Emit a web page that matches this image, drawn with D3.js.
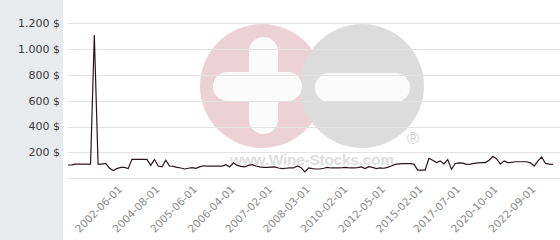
<!DOCTYPE html>
<html>
<head>
<meta charset="utf-8">
<script src="https://d3js.org/d3.v7.min.js"></script>
<style>
  body { margin: 0; background: #fff; }
  svg { display: block; font-family: "DejaVu Sans", Verdana, sans-serif; }
</style>
</head>
<body>
<div id="chart"></div>
<script>
var prices = [
  103, 104, 110, 110, 110, 110, 110, 1110, 110, 110,
  115, 80, 60, 75, 85, 85, 75, 147, 147, 147,
  147, 147, 100, 145, 95, 88, 140, 95, 92, 85,
  80, 72, 78, 82, 77, 88, 97, 95, 95, 95,
  95, 95, 105, 88, 120, 100, 92, 88, 100, 105,
  95, 88, 85, 84, 86, 88, 80, 75, 78, 80,
  80, 95, 82, 50, 80, 75, 72, 72, 78, 85,
  80, 80, 80, 82, 85, 80, 80, 82, 88, 75,
  90, 85, 75, 80, 78, 85, 95, 108, 112, 113,
  113, 113, 110, 64, 64, 64, 155, 140, 122, 135,
  112, 145, 70, 115, 120, 118, 108, 110, 115, 120,
  122, 122, 140, 170, 150, 110, 135, 122, 124, 128,
  128, 128, 128, 120, 95, 135, 165, 115, 110, 108
];

// category labels shown on the x axis, and the observation they sit on
var tickIndex = [14, 24, 34, 44, 54, 64, 74, 84, 94, 104, 114, 124];
var tickLabels = ["2002-06-01", "2004-08-01", "2005-06-01", "2006-04-01", "2007-02-01", "2008-03-01",
                  "2010-02-01", "2012-05-01", "2015-02-01", "2017-07-01", "2020-10-01", "2022-09-01"];

var yTicks = [0, 200, 400, 600, 800, 1000, 1200];

var width = 560, height = 240;

var svg = d3.select("#chart").append("svg")
  .attr("width", width)
  .attr("height", height);

// grey side panel behind the y labels
svg.append("rect").attr("x", 0).attr("y", 0).attr("width", 63).attr("height", height).attr("fill", "#e8ecef");

var x = d3.scaleLinear().domain([0, prices.length - 1]).range([68, 553]);
var y = d3.scaleLinear().domain([0, 1200]).range([178.3, 23.3]);

// watermark logo
var wm = svg.append("g");
wm.append("circle").attr("cx", 262).attr("cy", 86).attr("r", 62).attr("fill", "#ecd1d7");
wm.append("circle").attr("cx", 362).attr("cy", 86).attr("r", 62).attr("fill", "#dcdcdc");
wm.append("rect").attr("x", 249).attr("y", 37).attr("width", 29).attr("height", 97).attr("rx", 14.5).attr("fill", "#fbfbfb");
wm.append("rect").attr("x", 213).attr("y", 72).attr("width", 89).attr("height", 29).attr("rx", 14.5).attr("fill", "#fbfbfb");
wm.append("rect").attr("x", 315).attr("y", 73).attr("width", 95).attr("height", 29).attr("rx", 14.5).attr("fill", "#fbfbfb");
wm.append("text").attr("x", 413).attr("y", 144).attr("text-anchor", "middle")
  .style("font-family", "Liberation Sans, Arial, sans-serif").style("font-size", "17px").attr("fill", "#d6d6d6").text("®");
wm.append("text").attr("x", 230).attr("y", 165)
  .attr("textLength", 164)
  .style("font-family", "Liberation Sans, Arial, sans-serif").style("font-size", "15.5px").style("font-weight", "bold")
  .attr("fill", "#dedede").text("www.Wine-Stocks.com");

// horizontal grid
svg.append("g").selectAll("line")
  .data(yTicks)
  .enter().append("line")
  .attr("x1", 68).attr("x2", width)
  .attr("y1", function(d) { return Math.round(y(d)) + 0.5; })
  .attr("y2", function(d) { return Math.round(y(d)) + 0.5; })
  .attr("stroke", "#e3e3e3")
  .attr("stroke-width", 1);

// y labels, dot as thousands separator
var fmt = d3.formatLocale({decimal: ",", thousands: ".", grouping: [3], currency: ["", " $"]}).format(",d");
svg.append("g").selectAll("text")
  .data(yTicks.filter(function(d) { return d > 0; }))
  .enter().append("text")
  .attr("x", 60)
  .attr("y", function(d) { return y(d); })
  .attr("dy", "0.35em")
  .attr("text-anchor", "end")
  .style("font-size", "11px")
  .attr("fill", "#3a3a3a")
  .text(function(d) { return fmt(d) + " $"; });

// x labels, rotated
svg.append("g").selectAll("text")
  .data(tickIndex)
  .enter().append("text")
  .attr("transform", function(d) { return "translate(" + (x(d) + 2) + ",190) rotate(-45)"; })
  .attr("text-anchor", "end")
  .style("font-size", "10.5px")
  .attr("fill", "#8a8a8a")
  .text(function(d, i) { return tickLabels[i]; });

// price line
var line = d3.line()
  .x(function(d, i) { return x(i); })
  .y(function(d) { return y(d); });

svg.append("path")
  .datum(prices)
  .attr("d", line)
  .attr("fill", "none")
  .attr("stroke", "#2e1420")
  .attr("stroke-width", 1.2)
  .attr("stroke-linejoin", "miter");
</script>
</body>
</html>
